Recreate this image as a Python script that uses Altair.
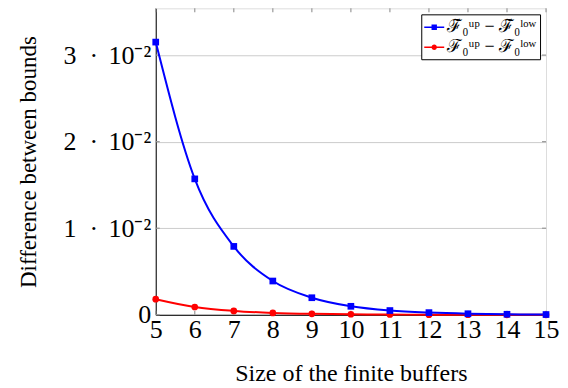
import altair as alt
import pandas as pd

buffers = [5, 6, 7, 8, 9, 10, 11, 12, 13, 14, 15]
tilde_diff = [0.0315, 0.0157, 0.0079, 0.0039, 0.00197, 0.00098, 0.00049, 0.00025, 0.00012, 0.00006, 0.00003]
plain_diff = [0.0018, 0.0009, 0.00045, 0.00022, 0.00011, 0.00006, 0.00003, 0.00001, 0.00001, 0.0, 0.0]
y_ticks = [0, 0.01, 0.02, 0.03]
series_names = ["ℱ̃₀ᵘᵖ − ℱ̃₀ˡᵒʷ", "ℱ₀ᵘᵖ − ℱ₀ˡᵒʷ"]
colors = ["#0000ff", "#ff0000"]

df = pd.DataFrame({
    "x": buffers * 2,
    "y": tilde_diff + plain_diff,
    "s": [series_names[0]] * len(buffers) + [series_names[1]] * len(buffers),
})
blue = df[df.s == series_names[0]]
red = df[df.s == series_names[1]]

FONT = "Liberation Serif"
XMIN, XMAX = 5, 15
YMIN, YMAX = 0, 0.0354
TLX = (XMAX - XMIN) * 4 / 391.0
TLY = (YMAX - YMIN) * 4 / 307.0

xt = pd.DataFrame({"tx": buffers, "b0": [YMIN] * len(buffers), "b1": [YMIN + TLY] * len(buffers),
                   "t0": [YMAX] * len(buffers), "t1": [YMAX - TLY] * len(buffers)})
yt = pd.DataFrame({"ty": y_ticks, "l0": [XMIN] * len(y_ticks), "l1": [XMIN + TLX] * len(y_ticks),
                   "r0": [XMAX] * len(y_ticks), "r1": [XMAX - TLX] * len(y_ticks)})

xs = alt.Scale(domain=[XMIN, XMAX], nice=False, zero=False)
ys = alt.Scale(domain=[YMIN, YMAX], nice=False)

XT = "Size of the finite buffers"
YT = "Difference between bounds"
x_axis = alt.Axis(values=buffers, format="d", grid=False, ticks=False, labelFlush=False,
                  labelOverlap=False,
                  labelFontSize=26, labelFont=FONT, labelPadding=2,
                  titleFontSize=24, titleFont=FONT, titleFontWeight="normal",
                  titlePadding=19, domainColor="black", labelColor="black", titleColor="black")
y_axis = alt.Axis(values=y_ticks, grid=True, gridColor="#cccccc", ticks=False, labelFlush=False,
                  labelOverlap=False,
                  labelExpr="datum.value == 0 ? '0' : round(datum.value*100) + '\u2002·\u2009\u200910⁻²'",
                  labelFontSize=26, labelFont=FONT, labelPadding=5,
                  titleFontSize=23, titleFont=FONT, titleFontWeight="normal",
                  titlePadding=23, domainColor="black", labelColor="black", titleColor="black")
xenc = alt.X("x:Q", scale=xs, title=XT, axis=x_axis)
yenc = alt.Y("y:Q", scale=ys, title=YT, axis=y_axis)

line_b = alt.Chart(blue).mark_line(color=colors[0], strokeWidth=2, interpolate="monotone").encode(x=xenc, y=yenc)
line_r = alt.Chart(red).mark_line(color=colors[1], strokeWidth=2, interpolate="monotone").encode(x=xenc, y=yenc)
pts_b = alt.Chart(blue).mark_point(shape="square", filled=True, color=colors[0], size=45, opacity=1).encode(x=xenc, y=yenc)
pts_r = alt.Chart(red).mark_point(shape="circle", filled=True, color=colors[1], size=45, opacity=1).encode(x=xenc, y=yenc)

rule_style = dict(color="#999999", strokeWidth=1.2)
tx_bot = alt.Chart(xt).mark_rule(**rule_style).encode(
    x=alt.X("tx:Q", scale=xs, axis=x_axis, title=XT),
    y=alt.Y("b0:Q", scale=ys, axis=y_axis, title=YT), y2="b1:Q")
tx_top = alt.Chart(xt).mark_rule(**rule_style).encode(
    x=alt.X("tx:Q", scale=xs, axis=x_axis, title=XT),
    y=alt.Y("t0:Q", scale=ys, axis=y_axis, title=YT), y2="t1:Q")
ty_l = alt.Chart(yt).mark_rule(**rule_style).encode(
    y=alt.Y("ty:Q", scale=ys, axis=y_axis, title=YT),
    x=alt.X("l0:Q", scale=xs, axis=x_axis, title=XT), x2="l1:Q")
ty_r = alt.Chart(yt).mark_rule(**rule_style).encode(
    y=alt.Y("ty:Q", scale=ys, axis=y_axis, title=YT),
    x=alt.X("r0:Q", scale=xs, axis=x_axis, title=XT), x2="r1:Q")

sq_path = "M-1,-0.07H1V0.07H-1Z M-0.27,-0.27H0.27V0.27H-0.27Z"
ci_path = "M-1,-0.07H1V0.07H-1Z M0.27,0 A0.27,0.27 0 1,1 -0.27,0 A0.27,0.27 0 1,1 0.27,0 Z"

leg = alt.Chart(df).mark_point(filled=True, opacity=0).encode(
    x=xenc, y=yenc,
    color=alt.Color("s:N", scale=alt.Scale(domain=series_names, range=colors),
                    legend=alt.Legend(title=None, orient="top-right", offset=6,
                                      symbolSize=400, symbolOpacity=1, symbolStrokeWidth=0,
                                      labelFont=FONT, labelFontSize=18, labelColor="black",
                                      strokeColor="black", padding=3, rowPadding=1, labelOffset=3,
                                      fillColor="white", labelLimit=300)),
    shape=alt.Shape("s:N", scale=alt.Scale(domain=series_names, range=[sq_path, ci_path]), legend=None),
)

chart = alt.layer(ty_l, ty_r, tx_bot, tx_top, line_r, line_b, pts_r, pts_b, leg).properties(
    width=391, height=307,
    autosize=alt.AutoSizeParams(type="none"),
    padding={"left": 148, "top": 0, "right": 14, "bottom": 70},
).configure_view(stroke="#808080", strokeWidth=1.2).configure(background="white")

chart.save("out.html", embed_options={"renderer": "svg", "actions": False})
